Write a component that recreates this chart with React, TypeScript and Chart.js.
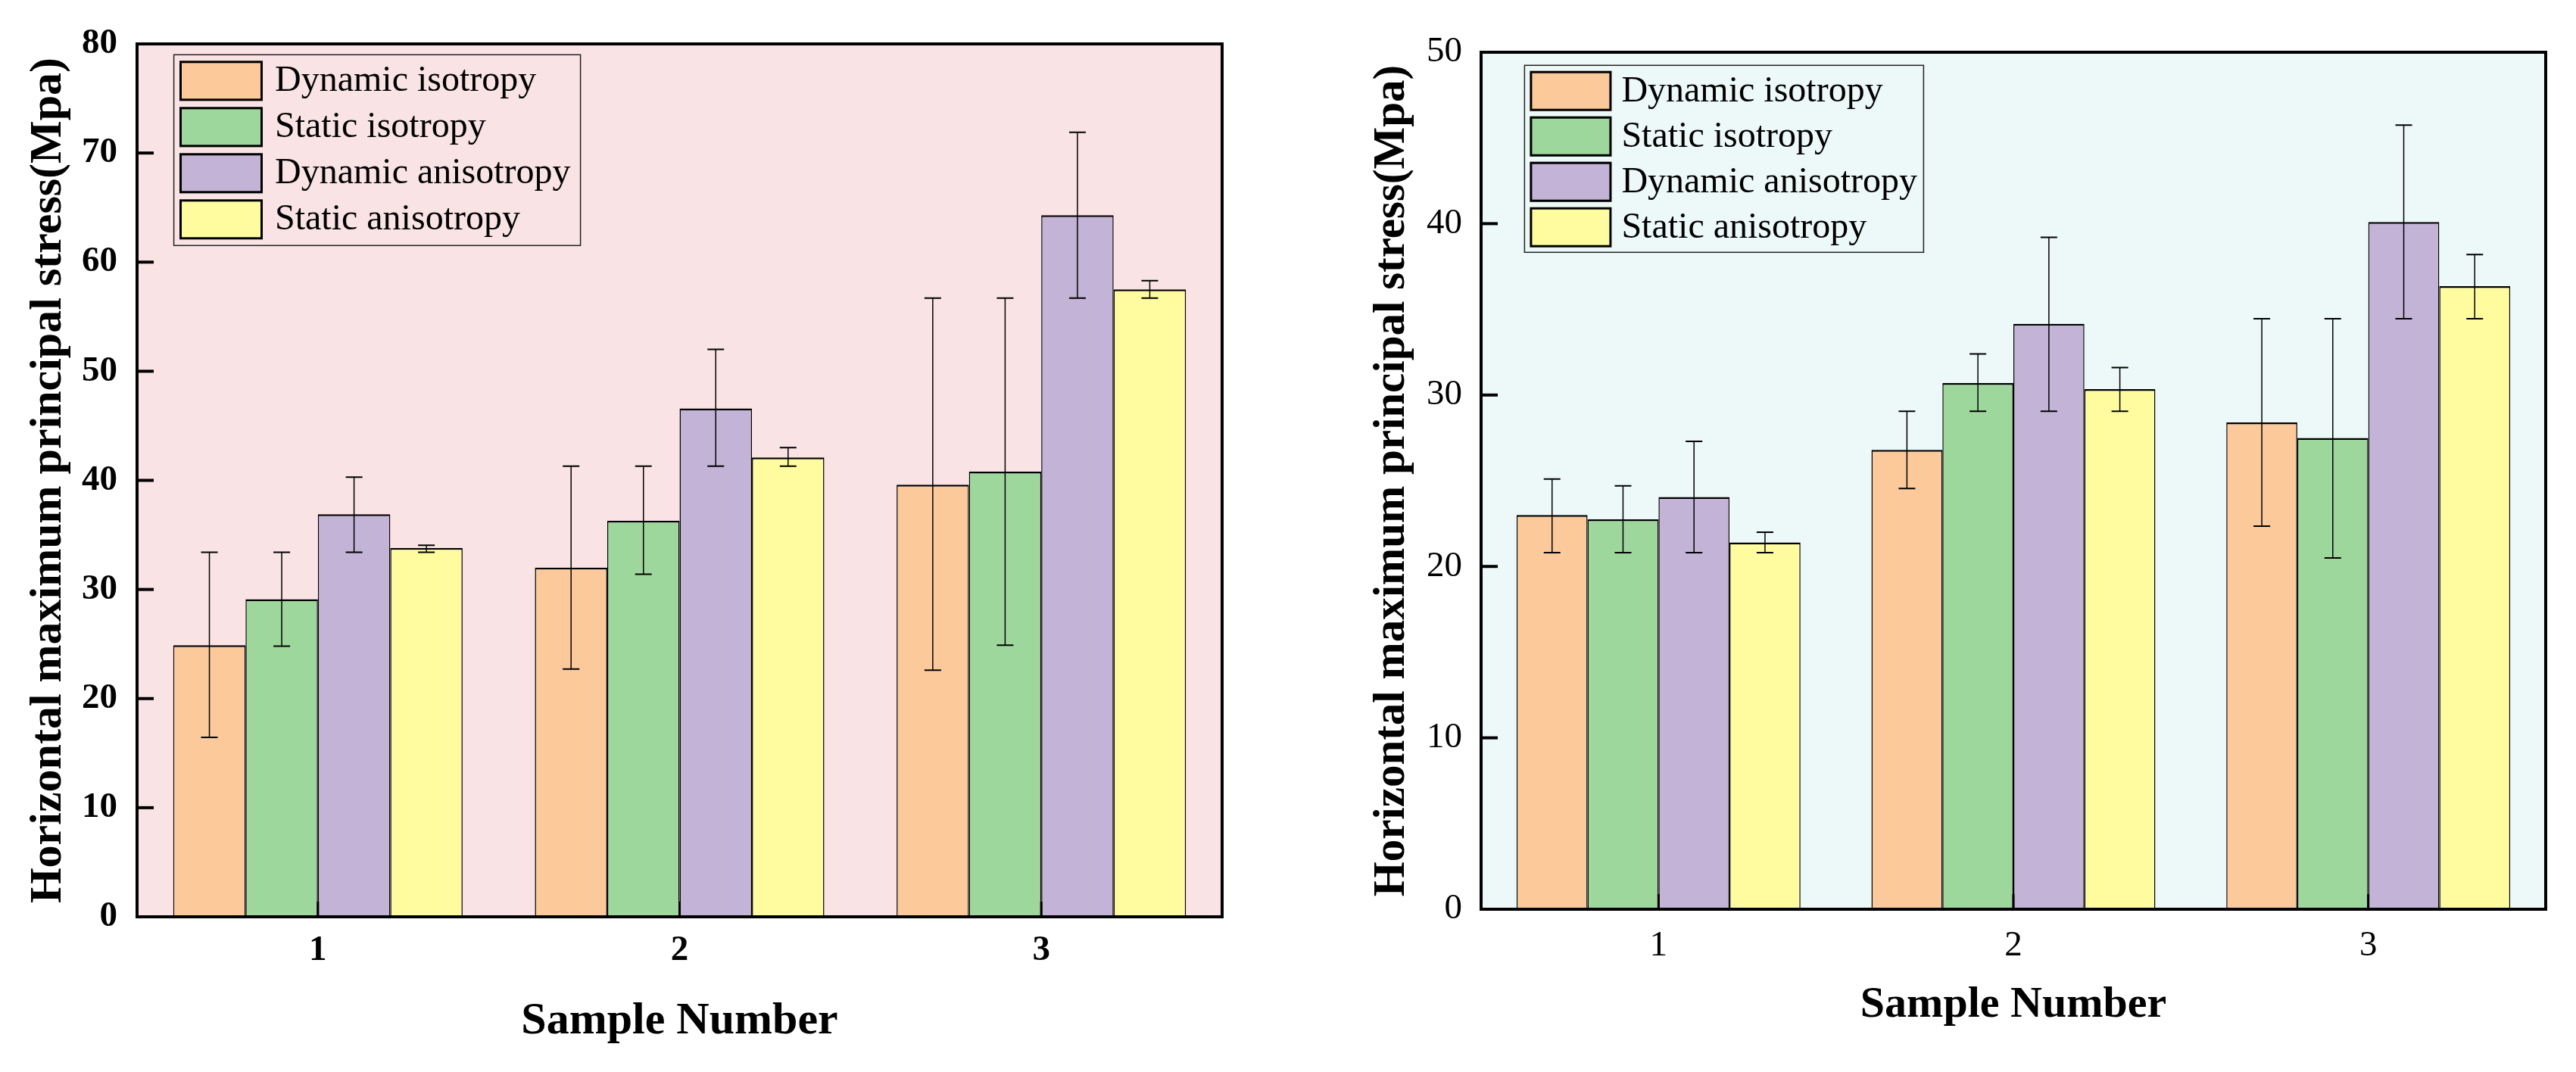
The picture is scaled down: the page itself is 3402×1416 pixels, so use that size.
import React, { useEffect, useRef } from "react";
import { Chart, registerables } from "chart.js";

Chart.register(...registerables);

// ---------- data ----------
const categories = ["1", "2", "3"];
const seriesLabels = ["Dynamic isotropy", "Static isotropy", "Dynamic anisotropy", "Static anisotropy"];
const seriesColors = ["#FBC99A", "#9ED79C", "#C3B3D6", "#FFFCA0"];

// Left panel (0–80)
const leftYTicks = [0, 10, 20, 30, 40, 50, 60, 70, 80];
const leftDynIso = [24.9, 32.0, 39.6];
const leftDynIsoLow = [16.45, 22.7, 22.6];
const leftDynIsoHigh = [33.4, 41.3, 56.7];
const leftStatIso = [29.1, 36.3, 40.8];
const leftStatIsoLow = [24.8, 31.4, 24.9];
const leftStatIsoHigh = [33.4, 41.3, 56.7];
const leftDynAniso = [36.9, 46.6, 64.3];
const leftDynAnisoLow = [33.4, 41.3, 56.7];
const leftDynAnisoHigh = [40.3, 52.0, 71.9];
const leftStatAniso = [33.8, 42.1, 57.5];
const leftStatAnisoLow = [33.4, 41.3, 56.7];
const leftStatAnisoHigh = [34.05, 43.0, 58.3];

// Right panel (0–50)
const rightYTicks = [0, 10, 20, 30, 40, 50];
const rightDynIso = [23.0, 26.8, 28.4];
const rightDynIsoLow = [20.8, 24.55, 22.35];
const rightDynIsoHigh = [25.1, 29.05, 34.45];
const rightStatIso = [22.75, 30.7, 27.5];
const rightStatIsoLow = [20.8, 29.05, 20.5];
const rightStatIsoHigh = [24.7, 32.4, 34.45];
const rightDynAniso = [24.05, 34.15, 40.1];
const rightDynAnisoLow = [20.8, 29.05, 34.45];
const rightDynAnisoHigh = [27.3, 39.2, 45.75];
const rightStatAniso = [21.4, 30.35, 36.35];
const rightStatAnisoLow = [20.8, 29.05, 34.45];
const rightStatAnisoHigh = [22.0, 31.6, 38.2];

const xTitle = "Sample Number";
const yTitle = "Horizontal maximum principal stress(Mpa)";

const SERIF = "'Liberation Serif', 'Times New Roman', serif";

type PanelStyle = {
  canvasLeft: number;
  width: number;
  height: number;
  yAxisWidth: number;
  xAxisHeight: number;
  padTop: number;
  padRight: number;
  bg: string;
  tickBold: boolean;
  tickSize: number;
  yTickPad: number;
  xTickPad: number;
  xTitleSize: number;
  xTitlePadBottom: number;
  yTitleSize: number;
  yTitlePadTop: number;
  legendOffX: number;
  legendOffY: number;
  legendW: number;
  legendH: number;
  swatchOffX: number;
  swatchOffY: number;
  swatchW: number;
  swatchH: number;
  rowPitch: number;
  textGap: number;
  legendFont: number;
};

type PanelProps = {
  style: PanelStyle;
  yMax: number;
  yTicks: number[];
  values: number[][];
  lows: number[][];
  highs: number[][];
};

function Panel({ style: p, yMax, yTicks, values, lows, highs }: PanelProps) {
  const ref = useRef<HTMLCanvasElement | null>(null);

  useEffect(() => {
    const canvas = ref.current;
    if (!canvas) return;

    const plugins: any[] = [
      {
        id: "plotBg",
        beforeDraw(chart: any) {
          const { ctx, chartArea: a } = chart;
          ctx.save();
          ctx.fillStyle = p.bg;
          ctx.fillRect(a.left, a.top, a.right - a.left, a.bottom - a.top);
          ctx.restore();
        },
      },
      {
        id: "errorBars",
        afterDatasetsDraw(chart: any) {
          const { ctx } = chart;
          const ys = chart.scales.y;
          ctx.save();
          ctx.strokeStyle = "#000";
          chart.data.datasets.forEach((_ds: any, i: number) => {
            const meta = chart.getDatasetMeta(i);
            meta.data.forEach((el: any, j: number) => {
              const x = el.x;
              const yh = ys.getPixelForValue(highs[i][j]);
              const yl = ys.getPixelForValue(lows[i][j]);
              ctx.lineWidth = 1.5;
              ctx.beginPath();
              ctx.moveTo(x, yh);
              ctx.lineTo(x, yl);
              ctx.stroke();
              ctx.lineWidth = 2;
              ctx.beginPath();
              ctx.moveTo(x - 11, yh);
              ctx.lineTo(x + 11, yh);
              ctx.moveTo(x - 11, yl);
              ctx.lineTo(x + 11, yl);
              ctx.stroke();
            });
          });
          ctx.restore();
        },
      },
      {
        id: "frameAndTicks",
        afterDraw(chart: any) {
          const { ctx, chartArea: a } = chart;
          const ys = chart.scales.y;
          const xs = chart.scales.x;
          ctx.save();
          ctx.strokeStyle = "#000";
          ctx.lineWidth = 4;
          ctx.strokeRect(a.left, a.top, a.right - a.left, a.bottom - a.top);
          ctx.lineWidth = 4;
          ys.ticks.forEach((t: any) => {
            const y = ys.getPixelForValue(t.value);
            ctx.beginPath();
            ctx.moveTo(a.left, y);
            ctx.lineTo(a.left + 22, y);
            ctx.stroke();
          });
          ctx.lineWidth = 3;
          categories.forEach((_c, k) => {
            const x = xs.getPixelForValue(k);
            ctx.beginPath();
            ctx.moveTo(x, a.bottom);
            ctx.lineTo(x, a.bottom - 20);
            ctx.stroke();
          });
          ctx.restore();
        },
      },
      {
        id: "boxLegend",
        afterDraw(chart: any) {
          const { ctx, chartArea: a } = chart;
          const bx = a.left + p.legendOffX;
          const by = a.top + p.legendOffY;
          ctx.save();
          ctx.strokeStyle = "#222";
          ctx.lineWidth = 1.5;
          ctx.strokeRect(bx, by, p.legendW, p.legendH);
          ctx.font = `${p.legendFont}px ${SERIF}`;
          ctx.textBaseline = "middle";
          ctx.textAlign = "left";
          chart.data.datasets.forEach((ds: any, i: number) => {
            const sx = bx + p.swatchOffX;
            const sy = by + p.swatchOffY + i * p.rowPitch;
            ctx.fillStyle = ds.backgroundColor;
            ctx.fillRect(sx, sy, p.swatchW, p.swatchH);
            ctx.lineWidth = 3;
            ctx.strokeStyle = "#000";
            ctx.strokeRect(sx + 1.5, sy + 1.5, p.swatchW - 3, p.swatchH - 3);
            ctx.fillStyle = "#000";
            ctx.fillText(ds.label, sx + p.swatchW + p.textGap, sy + p.swatchH / 2 + 1);
          });
          ctx.restore();
        },
      },
    ];

    const chart = new Chart(canvas, {
      type: "bar",
      data: {
        labels: categories,
        datasets: seriesLabels.map((label, i) => ({
          label,
          data: values[i],
          backgroundColor: seriesColors[i],
          borderColor: "#000",
          borderWidth: { top: 2.5, left: 1.5, right: 1.5, bottom: 0 },
          borderSkipped: false,
          categoryPercentage: 0.8,
          barPercentage: 1.0,
        })),
      },
      options: {
        animation: false,
        responsive: false,
        devicePixelRatio: 1,
        layout: { padding: { left: 0, top: p.padTop, right: p.padRight, bottom: 0 } },
        plugins: {
          legend: { display: false },
          tooltip: { enabled: false },
          title: { display: false },
        },
        scales: {
          x: {
            grid: { display: false, drawTicks: false },
            border: { display: false },
            ticks: {
              color: "#000",
              padding: p.xTickPad,
              font: { family: SERIF, size: p.tickSize, weight: p.tickBold ? "bold" : "normal", lineHeight: 1.2 },
            },
            title: {
              display: true,
              text: xTitle,
              color: "#000",
              font: { family: SERIF, size: p.xTitleSize, weight: "bold", lineHeight: 1.2 },
              padding: { top: 0, bottom: p.xTitlePadBottom },
            },
            afterFit(scale: any) {
              scale.height = p.xAxisHeight;
            },
          },
          y: {
            min: 0,
            max: yMax,
            grid: { display: false, drawTicks: false },
            border: { display: false },
            afterBuildTicks(scale: any) {
              scale.ticks = yTicks.map((v) => ({ value: v }));
            },
            ticks: {
              color: "#000",
              padding: p.yTickPad,
              font: { family: SERIF, size: p.tickSize, weight: p.tickBold ? "bold" : "normal", lineHeight: 1.2 },
            },
            title: {
              display: true,
              text: yTitle,
              color: "#000",
              font: { family: SERIF, size: p.yTitleSize, weight: "bold", lineHeight: 1.2 },
              padding: { top: p.yTitlePadTop, bottom: 0 },
            },
            afterFit(scale: any) {
              scale.width = p.yAxisWidth;
            },
          },
        },
      } as any,
      plugins,
    });

    return () => chart.destroy();
  }, []);

  return (
    <canvas
      ref={ref}
      width={p.width}
      height={p.height}
      style={{ position: "absolute", left: p.canvasLeft, top: 0, width: p.width, height: p.height }}
    />
  );
}

const leftStyle: PanelStyle = {
  canvasLeft: 0,
  width: 1700,
  height: 1416,
  yAxisWidth: 181,
  xAxisHeight: 205,
  padTop: 58,
  padRight: 86,
  bg: "#F9E3E5",
  tickBold: true,
  tickSize: 47,
  yTickPad: 26,
  xTickPad: 17,
  xTitleSize: 60,
  xTitlePadBottom: 31,
  yTitleSize: 60,
  yTitlePadTop: 28,
  legendOffX: 48.6,
  legendOffY: 14.3,
  legendW: 537,
  legendH: 252,
  swatchOffX: 7.4,
  swatchOffY: 8,
  swatchW: 110,
  swatchH: 53,
  rowPitch: 61,
  textGap: 16,
  legendFont: 48,
};

const rightStyle: PanelStyle = {
  canvasLeft: 1700,
  width: 1702,
  height: 1416,
  yAxisWidth: 256,
  xAxisHeight: 215,
  padTop: 69,
  padRight: 40,
  bg: "#EDF8F8",
  tickBold: false,
  tickSize: 47,
  yTickPad: 25,
  xTickPad: 20,
  xTitleSize: 58,
  xTitlePadBottom: 53,
  yTitleSize: 59,
  yTitlePadTop: 103.6,
  legendOffX: 57.4,
  legendOffY: 17.3,
  legendW: 527,
  legendH: 247,
  swatchOffX: 7,
  swatchOffY: 7.4,
  swatchW: 108,
  swatchH: 53,
  rowPitch: 60,
  textGap: 13,
  legendFont: 48,
};

export default function App() {
  return (
    <div style={{ position: "absolute", left: 0, top: 0, width: 3402, height: 1416, background: "#fff" }}>
      <Panel
        style={leftStyle}
        yMax={80}
        yTicks={leftYTicks}
        values={[leftDynIso, leftStatIso, leftDynAniso, leftStatAniso]}
        lows={[leftDynIsoLow, leftStatIsoLow, leftDynAnisoLow, leftStatAnisoLow]}
        highs={[leftDynIsoHigh, leftStatIsoHigh, leftDynAnisoHigh, leftStatAnisoHigh]}
      />
      <Panel
        style={rightStyle}
        yMax={50}
        yTicks={rightYTicks}
        values={[rightDynIso, rightStatIso, rightDynAniso, rightStatAniso]}
        lows={[rightDynIsoLow, rightStatIsoLow, rightDynAnisoLow, rightStatAnisoLow]}
        highs={[rightDynIsoHigh, rightStatIsoHigh, rightDynAnisoHigh, rightStatAnisoHigh]}
      />
    </div>
  );
}
